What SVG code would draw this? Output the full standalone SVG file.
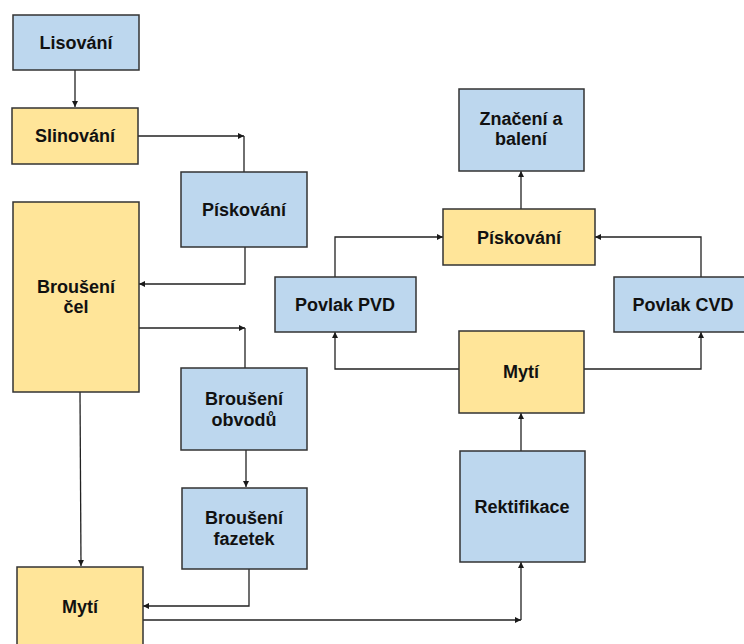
<svg xmlns="http://www.w3.org/2000/svg" width="744" height="644" viewBox="0 0 744 644">
  <defs>
    <marker id="arrow" markerUnits="userSpaceOnUse" markerWidth="7" markerHeight="7" refX="6" refY="3.5" orient="auto">
      <path d="M0,0.5 L6,3.5 L0,6.5 z" fill="#1a1a1a"/>
    </marker>
  </defs>
  <style>
    .blue { fill: #bdd7ee; stroke: #333; stroke-width: 1.5; }
    .yellow { fill: #ffe599; stroke: #333; stroke-width: 1.5; }
    .lbl { font-family: "Liberation Sans", Arial, sans-serif; font-weight: bold; font-size: 18px; fill: #111; text-anchor: middle; }
    .conn path { fill: none; stroke: #222; stroke-width: 1.3; }
    .conn .arr { marker-end: url(#arrow); }
  </style>
  <rect width="744" height="644" fill="#ffffff"/>

  <!-- connectors -->
  <g id="connectors" class="conn">
    <path class="arr" d="M75,70 V107"/>
    <path class="arr" d="M138,136 H244"/>
    <path d="M244,172 V136"/>
    <path class="arr" d="M245,247 V284 H139"/>
    <path class="arr" d="M139,328 H245"/>
    <path d="M245,368 V328"/>
    <path class="arr" d="M246,450 V487"/>
    <path class="arr" d="M80,392 L81,566"/>
    <path class="arr" d="M249,569 V606 H143"/>
    <path class="arr" d="M143,620 H521"/>
    <path class="arr" d="M521,620 V562"/>
    <path class="arr" d="M521,451 V413"/>
    <path class="arr" d="M459,369 H335 V332"/>
    <path class="arr" d="M584,369 H701 V332"/>
    <path class="arr" d="M335,277 V237 H443"/>
    <path class="arr" d="M701,277 V237 H595"/>
    <path class="arr" d="M521,209 V171"/>
  </g>

  <!-- left column -->
  <g id="lisovani">
    <rect class="blue" x="13" y="15" width="126" height="55"/>
    <text class="lbl" x="76" y="49">Lisování</text>
  </g>
  <g id="slinovani">
    <rect class="yellow" x="12" y="108" width="126" height="56"/>
    <text class="lbl" x="75" y="142">Slinování</text>
  </g>
  <g id="brouseni-cel">
    <rect class="yellow" x="13" y="202" width="126" height="190"/>
    <text class="lbl" x="76" y="293">Broušení</text>
    <text class="lbl" x="76" y="313">čel</text>
  </g>
  <g id="myti-1">
    <rect class="yellow" x="17" y="567" width="126" height="90"/>
    <text class="lbl" x="80" y="613">Mytí</text>
  </g>

  <!-- middle column -->
  <g id="piskovani-1">
    <rect class="blue" x="181" y="172" width="126" height="75"/>
    <text class="lbl" x="244" y="216">Pískování</text>
  </g>
  <g id="brouseni-obvodu">
    <rect class="blue" x="181" y="368" width="126" height="82"/>
    <text class="lbl" x="244" y="405">Broušení</text>
    <text class="lbl" x="244" y="426">obvodů</text>
  </g>
  <g id="brouseni-fazetek">
    <rect class="blue" x="182" y="488" width="125" height="81"/>
    <text class="lbl" x="244" y="524">Broušení</text>
    <text class="lbl" x="244" y="545">fazetek</text>
  </g>

  <!-- right side -->
  <g id="znaceni">
    <rect class="blue" x="459" y="89" width="125" height="82"/>
    <text class="lbl" x="521" y="125">Značení a</text>
    <text class="lbl" x="521" y="145">balení</text>
  </g>
  <g id="piskovani-2">
    <rect class="yellow" x="443" y="209" width="152" height="56"/>
    <text class="lbl" x="519" y="244">Pískování</text>
  </g>
  <g id="povlak-pvd">
    <rect class="blue" x="275" y="277" width="141" height="55"/>
    <text class="lbl" x="345" y="311">Povlak PVD</text>
  </g>
  <g id="povlak-cvd">
    <rect class="blue" x="614" y="277" width="140" height="55"/>
    <text class="lbl" x="683" y="311">Povlak CVD</text>
  </g>
  <g id="myti-2">
    <rect class="yellow" x="459" y="331" width="125" height="82"/>
    <text class="lbl" x="521" y="378">Mytí</text>
  </g>
  <g id="rektifikace">
    <rect class="blue" x="460" y="451" width="125" height="111"/>
    <text class="lbl" x="522" y="513">Rektifikace</text>
  </g>
</svg>
